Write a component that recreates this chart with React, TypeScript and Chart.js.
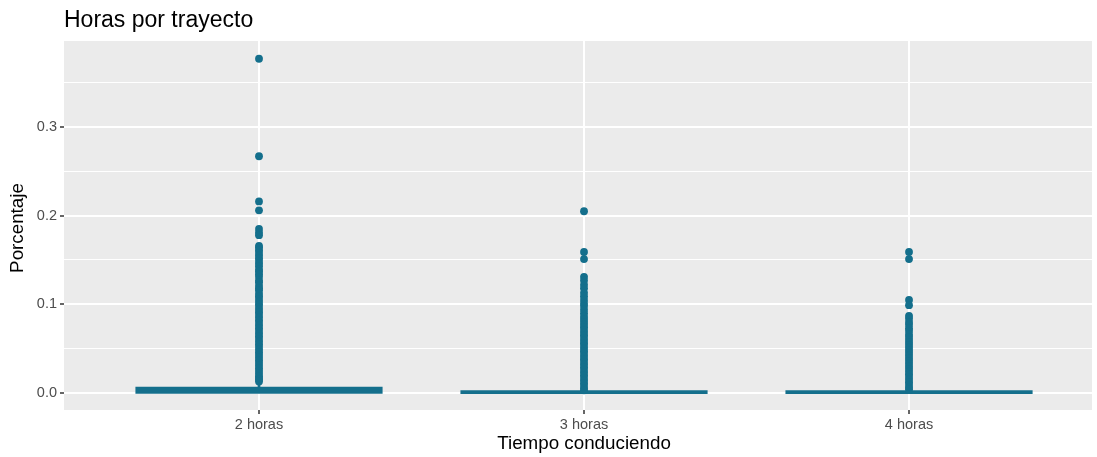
import { useEffect, useRef } from 'react';
import { Chart, registerables } from 'chart.js';

Chart.register(...registerables);

// Groups on the horizontal axis
const categories = ['2 horas', '3 horas', '4 horas'];

// Box statistics per group (share of the trip)
const boxLower = [0, 0, 0];
const boxUpper = [0.005, 0.0008, 0.0008];
const whiskerTop = [0.011, 0.0015, 0.0015];

// Outlying observations per group
const outliers2h = [
  0.377, 0.267, 0.216, 0.206, 0.185, 0.181, 0.178, 0.166, 0.164, 0.161, 0.158,
  0.155, 0.152, 0.149, 0.146, 0.143, 0.139, 0.137, 0.134, 0.131, 0.127, 0.125,
  0.121, 0.118, 0.116, 0.112, 0.109, 0.106, 0.103, 0.1, 0.097, 0.094, 0.091,
  0.088, 0.085, 0.082, 0.079, 0.076, 0.073, 0.07, 0.067, 0.064, 0.061, 0.058,
  0.055, 0.052, 0.049, 0.046, 0.043, 0.04, 0.037, 0.034, 0.031, 0.028, 0.025,
  0.022, 0.019, 0.017, 0.015, 0.013,
];
const outliers3h = [
  0.205, 0.159, 0.151, 0.131, 0.127, 0.122, 0.118, 0.113, 0.109, 0.105, 0.101,
  0.098, 0.094, 0.09, 0.086, 0.083, 0.08, 0.077, 0.074, 0.071, 0.068, 0.065,
  0.062, 0.059, 0.056, 0.053, 0.05, 0.047, 0.044, 0.041, 0.038, 0.035, 0.032,
  0.029, 0.026, 0.023, 0.02, 0.017, 0.014, 0.011, 0.008, 0.005, 0.003,
];
const outliers4h = [
  0.159, 0.151, 0.105, 0.099, 0.087, 0.084, 0.08, 0.077, 0.073, 0.07, 0.066,
  0.063, 0.06, 0.057, 0.054, 0.051, 0.048, 0.045, 0.042, 0.039, 0.036, 0.033,
  0.03, 0.027, 0.024, 0.021, 0.018, 0.015, 0.012, 0.009, 0.006, 0.004,
];

// Vertical axis ticks
const yMajorTicks = [0, 0.1, 0.2, 0.3];
const yTickLabels = ['0.0', '0.1', '0.2', '0.3'];
const yMinorTicks = [0.05, 0.15, 0.25, 0.35];

const TITLE = 'Horas por trayecto';
const X_TITLE = 'Tiempo conduciendo';
const Y_TITLE = 'Porcentaje';

const TEAL = '#146F8C';
const PANEL = '#EBEBEB';
const FONT = '"Liberation Sans", Arial, Helvetica, sans-serif';

const near = (a: number, b: number) => Math.abs(a - b) < 1e-6;
const isMajor = (v: number) => yMajorTicks.some((m) => near(m, v));

export default function App() {
  const ref = useRef<HTMLCanvasElement>(null);

  useEffect(() => {
    const canvas = ref.current;
    if (!canvas) return;

    const positions = categories.map((_, i) => i + 1);
    const outlierPoints = [outliers2h, outliers3h, outliers4h].flatMap((arr, i) =>
      arr.map((v) => ({ x: positions[i], y: v }))
    );

    const panelBackground = {
      id: 'panelBackground',
      beforeDraw(chart: any) {
        const { ctx, chartArea: a } = chart;
        ctx.save();
        ctx.fillStyle = PANEL;
        ctx.fillRect(a.left, a.top, a.right - a.left, a.bottom - a.top);
        ctx.restore();
      },
    };

    // Plot title plus the two axis titles
    const titles = {
      id: 'titles',
      afterDraw(chart: any) {
        const { ctx, chartArea: a, scales } = chart;
        ctx.save();
        ctx.fillStyle = '#000000';
        ctx.font = `23px ${FONT}`;
        ctx.textAlign = 'left';
        ctx.textBaseline = 'alphabetic';
        ctx.fillText(TITLE, a.left, 27);

        ctx.font = `18.8px ${FONT}`;
        ctx.textAlign = 'center';
        ctx.textBaseline = 'middle';
        const midX = scales.x.getPixelForValue(positions[1]);
        ctx.fillText(X_TITLE, midX, 444);

        ctx.translate(18, 228);
        ctx.rotate(-Math.PI / 2);
        ctx.fillText(Y_TITLE, 0, 0);
        ctx.restore();
      },
    };

    const chart = new Chart(canvas, {
      type: 'bar',
      data: {
        datasets: [
          {
            type: 'bar',
            label: 'bigote',
            data: positions.map((x, i) => ({ x, y: [boxUpper[i], whiskerTop[i]] })) as any,
            backgroundColor: TEAL,
            barThickness: 2,
            grouped: false,
            order: 3,
          },
          {
            type: 'bar',
            label: 'caja',
            data: positions.map((x, i) => ({ x, y: [boxLower[i], boxUpper[i]] })) as any,
            backgroundColor: TEAL,
            barPercentage: 0.75,
            categoryPercentage: 1,
            grouped: false,
            inflateAmount: 1.7,
            order: 2,
          } as any,
          {
            type: 'scatter',
            label: 'atípicos',
            data: outlierPoints,
            backgroundColor: TEAL,
            borderWidth: 0,
            pointRadius: 3.9,
            order: 1,
          },
        ],
      },
      options: {
        responsive: false,
        animation: false,
        layout: { padding: { left: 0, right: 5, top: 41, bottom: 0 } },
        plugins: {
          legend: { display: false },
          tooltip: { enabled: false },
          title: { display: false },
        },
        scales: {
          x: {
            type: 'linear',
            min: 0.4,
            max: 3.563,
            offset: false,
            afterBuildTicks: (s: any) => {
              s.ticks = positions.map((v) => ({ value: v }));
            },
            afterFit: (s: any) => {
              s.height = 47;
            },
            ticks: {
              callback: (v: any) => categories[Math.round(Number(v)) - 1] ?? '',
              color: '#4D4D4D',
              font: { family: FONT, size: 14.5 },
              padding: 2,
              maxRotation: 0,
              autoSkip: false,
            },
            grid: {
              offset: false,
              color: '#FFFFFF',
              lineWidth: 2,
              tickColor: '#333333',
              tickLength: 4,
              tickWidth: 1.5,
            },
            border: { display: false },
            title: { display: false },
          },
          y: {
            type: 'linear',
            min: -0.0192,
            max: 0.397,
            afterBuildTicks: (s: any) => {
              s.ticks = [...yMajorTicks, ...yMinorTicks]
                .sort((a, b) => a - b)
                .map((v) => ({ value: v }));
            },
            afterFit: (s: any) => {
              s.width = 64;
            },
            ticks: {
              callback: (v: any) => {
                const idx = yMajorTicks.findIndex((m) => near(m, Number(v)));
                return idx >= 0 ? yTickLabels[idx] : '';
              },
              color: '#4D4D4D',
              font: { family: FONT, size: 14.5 },
              padding: 3,
              autoSkip: false,
            },
            grid: {
              color: '#FFFFFF',
              lineWidth: (c: any) => (c.tick && isMajor(c.tick.value) ? 2 : 1),
              tickColor: (c: any) =>
                c.tick && isMajor(c.tick.value) ? '#333333' : 'rgba(0,0,0,0)',
              tickLength: 4,
              tickWidth: 1.5,
            },
            border: { display: false },
            title: { display: false },
          },
        },
      },
      plugins: [panelBackground, titles],
    });

    return () => chart.destroy();
  }, []);

  return (
    <div
      style={{
        position: 'absolute',
        left: 0,
        top: 0,
        width: 1097,
        height: 457,
        background: '#FFFFFF',
      }}
    >
      <canvas ref={ref} width={1097} height={457} />
    </div>
  );
}
